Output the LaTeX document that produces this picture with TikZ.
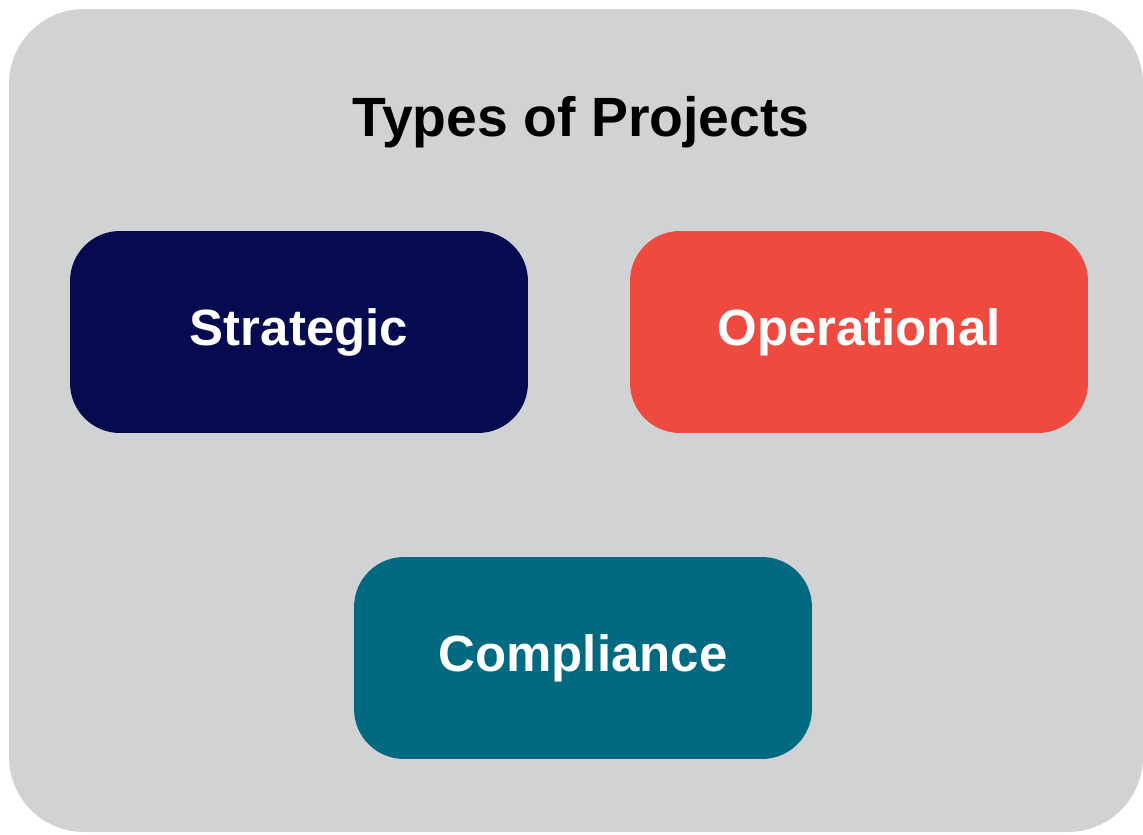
\documentclass[tikz,border=0pt]{standalone}
\usepackage{fontspec}
\setmainfont{Liberation Sans}
\usepackage{tikz}
\usetikzlibrary{positioning}
\definecolor{panelgray}{HTML}{D1D2D4}
\definecolor{navyblue}{HTML}{060A4E}
\definecolor{coralred}{HTML}{EE4A40}
\definecolor{tealblue}{HTML}{016A80}

\begin{document}
\begin{tikzpicture}[x=0.02cm,y=-0.02cm,
  typebox/.style={rounded corners=1cm, minimum width=9.16cm, minimum height=4.04cm,
    text=white, font=\fontsize{29}{34}\selectfont\bfseries, inner sep=0pt},
  titletext/.style={font=\fontsize{31.5}{37}\selectfont\bfseries, text=black}]
\useasboundingbox (0,0) rectangle (1143,835);
\fill[panelgray, rounded corners=1.5cm] (9,9) rectangle (1143,832);
\node[titletext] (title) at (581,122) {Types of Projects};
\node[typebox, fill=navyblue] (strategic) at (299,332) {Strategic};
\node[typebox, fill=coralred] (operational) at (859,332) {Operational};
\node[typebox, fill=tealblue] (compliance) at (583,658) {Compliance};
\end{tikzpicture}
\end{document}
